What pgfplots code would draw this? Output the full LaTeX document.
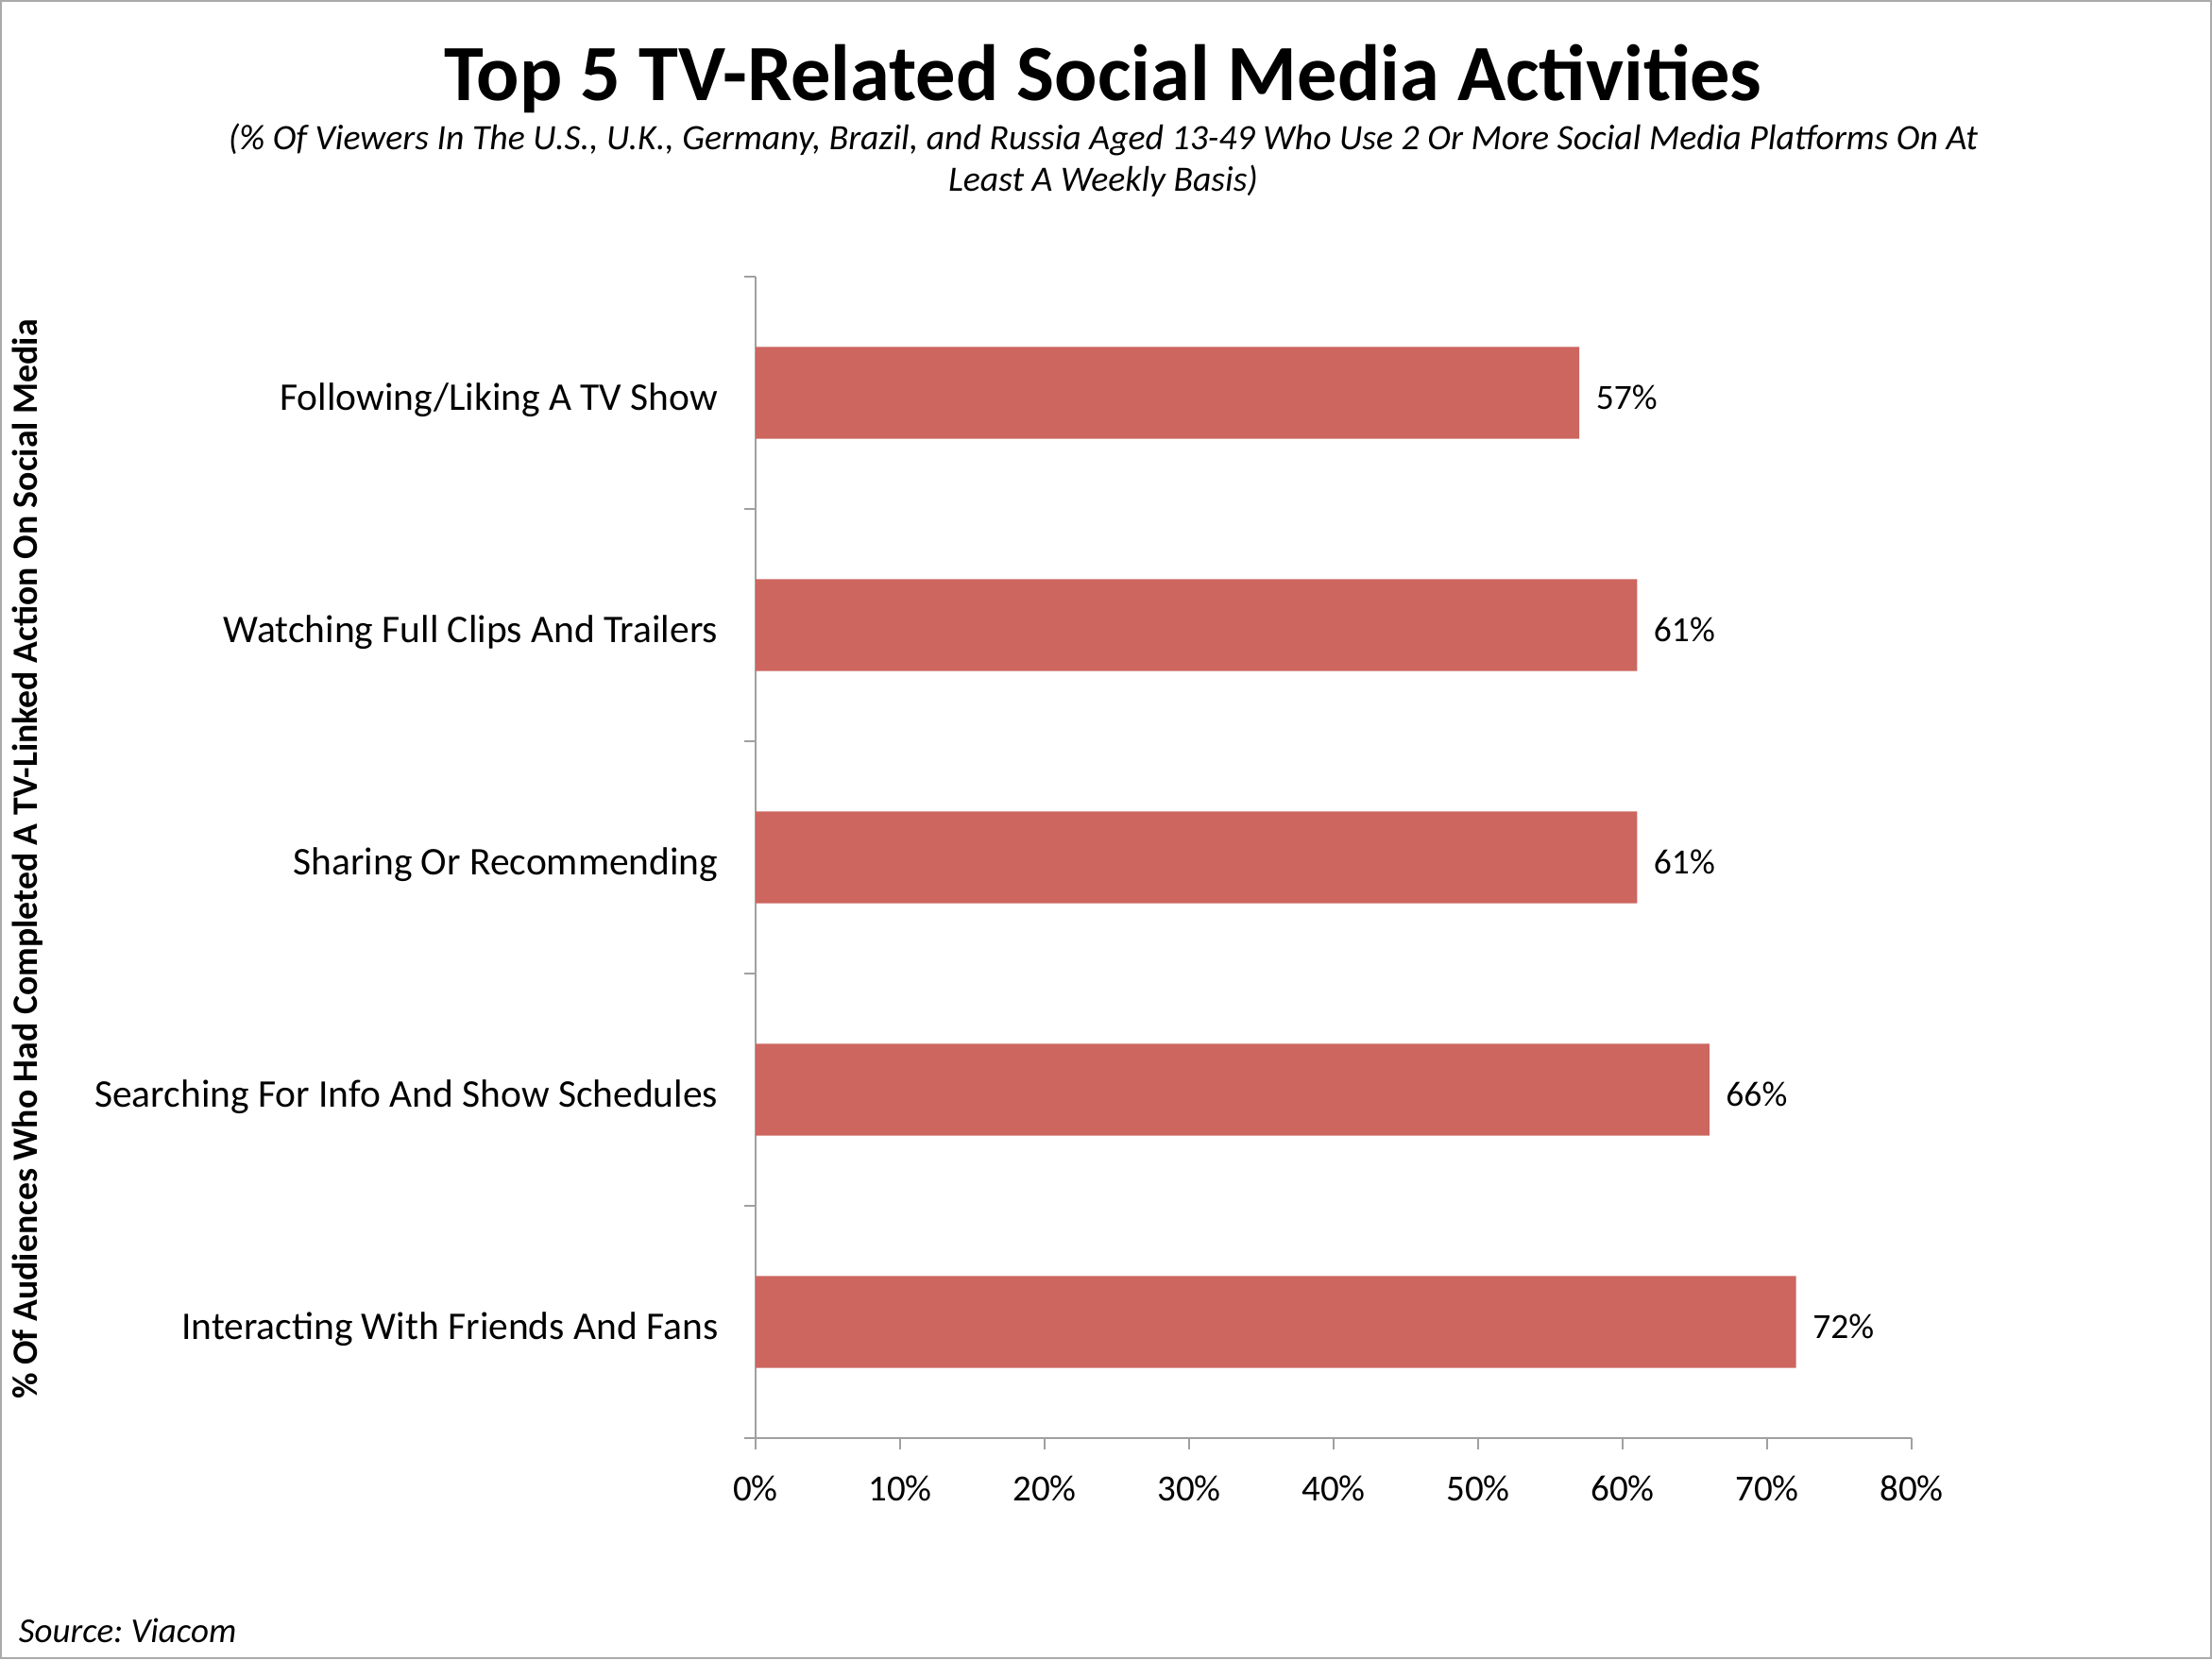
\documentclass[border=0pt]{standalone}
\usepackage{pgfplots}
\pgfplotsset{compat=1.18}
\usepackage{fontspec}
\setmainfont{Carlito}
\definecolor{barred}{RGB}{204,102,95}
\definecolor{axgray}{RGB}{160,160,160}
\begin{document}
\frenchspacing
\begin{tikzpicture}[x=1pt,y=1pt]
\draw[color={rgb,255:red,170;green,170;blue,170}, line width=0.4pt] (0.2,0.2) rectangle (468.2,351.2);
\node[font=\fontsize{16.9}{20}\selectfont\bfseries, anchor=base, inner sep=0pt] at (233.6,330.0) {Top 5 TV-Related Social Media Activities};
\node[font=\fontsize{7.55}{9}\selectfont\itshape, anchor=base, inner sep=0pt] at (233.6,319.7) {(\% Of Viewers In The U.S., U.K., Germany, Brazil, and Russia Aged 13-49 Who Use 2 Or More Social Media Platforms On At};
\node[font=\fontsize{7.55}{9}\selectfont\itshape, anchor=base, inner sep=0pt] at (233.6,310.9) {Least A Weekly Basis)};
\node[font=\fontsize{7.4}{9}\selectfont\itshape, anchor=base west, inner sep=0pt] at (3.8,3.6) {Source: Viacom};
\node[font=\fontsize{7.55}{9}\selectfont\bfseries, rotate=90, anchor=center, inner sep=0pt] at (5.8,169.4) {\% Of Audiences Who Had Completed A TV-Linked Action On Social Media};
\begin{axis}[
  at={(160pt,46.8pt)}, anchor=south west,
  scale only axis, width=244.8pt, height=246pt,
  xbar, bar width=0.395,
  xmin=0, xmax=80, ymin=0.5, ymax=5.5,
  axis lines*=left, axis line style={axgray, line width=0.5pt, -},
  tick align=outside, major tick length=2.4pt,
  tick style={axgray, line width=0.5pt},
  xtick={0,10,...,80},
  xticklabel={\pgfmathprintnumber{\tick}\%},
  xticklabel style={font=\fontsize{7.8}{9}\selectfont, yshift=-2pt},
  ytick={0.5,1.5,...,5.5}, yticklabels={},
  extra y ticks={1,2,3,4,5},
  extra y tick labels={Interacting With Friends And Fans, Searching For Info And Show Schedules, Sharing Or Recommending, Watching Full Clips And Trailers, Following/Liking A TV Show},
  extra y tick style={major tick length=0pt, yticklabel style={font=\fontsize{8.3}{10}\selectfont, xshift=-4.4pt, yshift=-1.5pt}},
  /pgf/number format/assume math mode=true,
  nodes near coords={\pgfmathprintnumber{\pgfplotspointmeta}\%},
  nodes near coords style={font=\fontsize{7.5}{9}\selectfont, anchor=west, xshift=0pt, yshift=-1pt},
  clip=false,
]
\addplot[fill=barred, draw=none] coordinates {(72,1) (66,2) (61,3) (61,4) (57,5)};
\end{axis}
\end{tikzpicture}
\end{document}
